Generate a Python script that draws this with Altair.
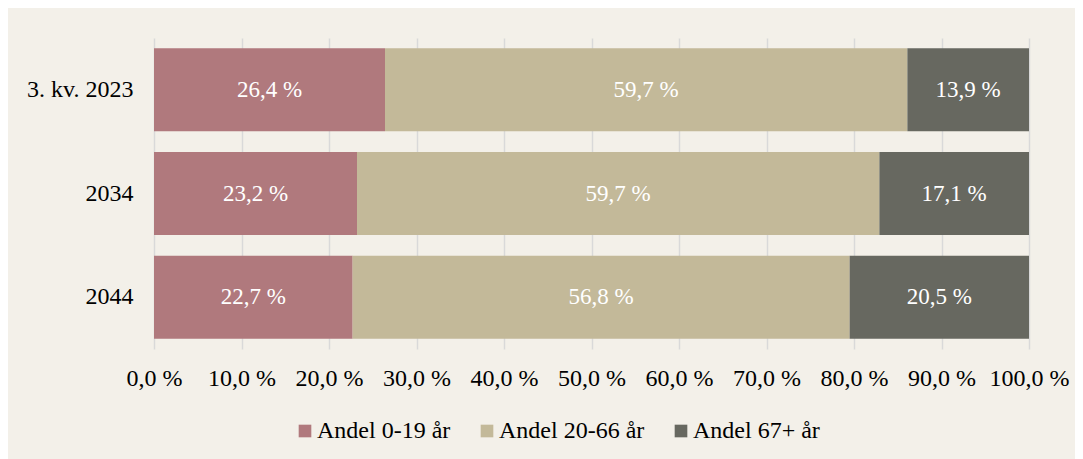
import altair as alt
import pandas as pd

periods = ["3. kv. 2023", "2034", "2044"]
groups = ["Andel 0-19 år", "Andel 20-66 år", "Andel 67+ år"]
share_0_19 = [26.4, 23.2, 22.7]
share_20_66 = [59.7, 59.7, 56.8]
share_67 = [13.9, 17.1, 20.5]
x_ticks = [0, 10, 20, 30, 40, 50, 60, 70, 80, 90, 100]
colors = ["#B0797D", "#C3B999", "#676860"]

rows = []
for i, p in enumerate(periods):
    for j, (g, vals) in enumerate(zip(groups, [share_0_19, share_20_66, share_67])):
        rows.append({"period": p, "group": g, "order": j, "value": vals[i]})
df = pd.DataFrame(rows)

FONT = "Liberation Serif"
FS = 24
FS_BAR = 23

y_enc = alt.Y("period:N", sort=periods, title=None,
              scale=alt.Scale(paddingInner=0.2, paddingOuter=0.1),
              axis=alt.Axis(domain=False, ticks=False, labelPadding=21,
                            labelFont=FONT, labelFontSize=FS, labelColor="#000000",
                            grid=False))

bars = alt.Chart(df).mark_bar().encode(
    x=alt.X("value:Q", stack="zero", title=None,
            scale=alt.Scale(domain=[0, 100], nice=False),
            axis=alt.Axis(values=x_ticks, grid=True, gridColor="#D9D9D9", gridWidth=1.5,
                          domain=False, ticks=False, labelPadding=17,
                          labelOverlap=False, labelFlush=False,
                          labelFont=FONT, labelFontSize=FS, labelColor="#000000",
                          labelExpr="replace(format(datum.value, '.1f'), '.', ',') + ' %'")),
    y=y_enc,
    color=alt.Color("group:N", sort=groups,
                    scale=alt.Scale(domain=groups, range=colors),
                    legend=alt.Legend(title=None, orient="none", direction="horizontal",
                                      legendX=139, legendY=381,
                                      symbolType="square", symbolSize=160,
                                      symbolStrokeWidth=0, labelOffset=0,
                                      columnPadding=24,
                                      labelFont=FONT, labelFontSize=FS, labelColor="#000000")),
    order=alt.Order("order:Q"),
)

labels = alt.Chart(df).transform_stack(
    stack="value", groupby=["period"], as_=["x0", "x1"],
    sort=[alt.SortField("order", order="ascending")]
).transform_calculate(
    mid="(datum.x0 + datum.x1) / 2",
    lab="replace(format(datum.value, '.1f'), '.', ',') + ' %'"
).mark_text(font=FONT, fontSize=FS_BAR, color="#FFFFFF", baseline="middle", align="center").encode(
    x=alt.X("mid:Q"),
    y=alt.Y("period:N", sort=periods),
    text="lab:N",
)

chart = alt.layer(bars, labels).properties(
    width=875, height=311,
    autosize=alt.AutoSizeParams(type="none"),
    padding={"left": 146, "top": 30, "right": 46, "bottom": 110},
    background="#F3F0E9",
).configure_view(stroke=None)

chart.save("out.html", embed_options={"renderer": "svg", "actions": False})
